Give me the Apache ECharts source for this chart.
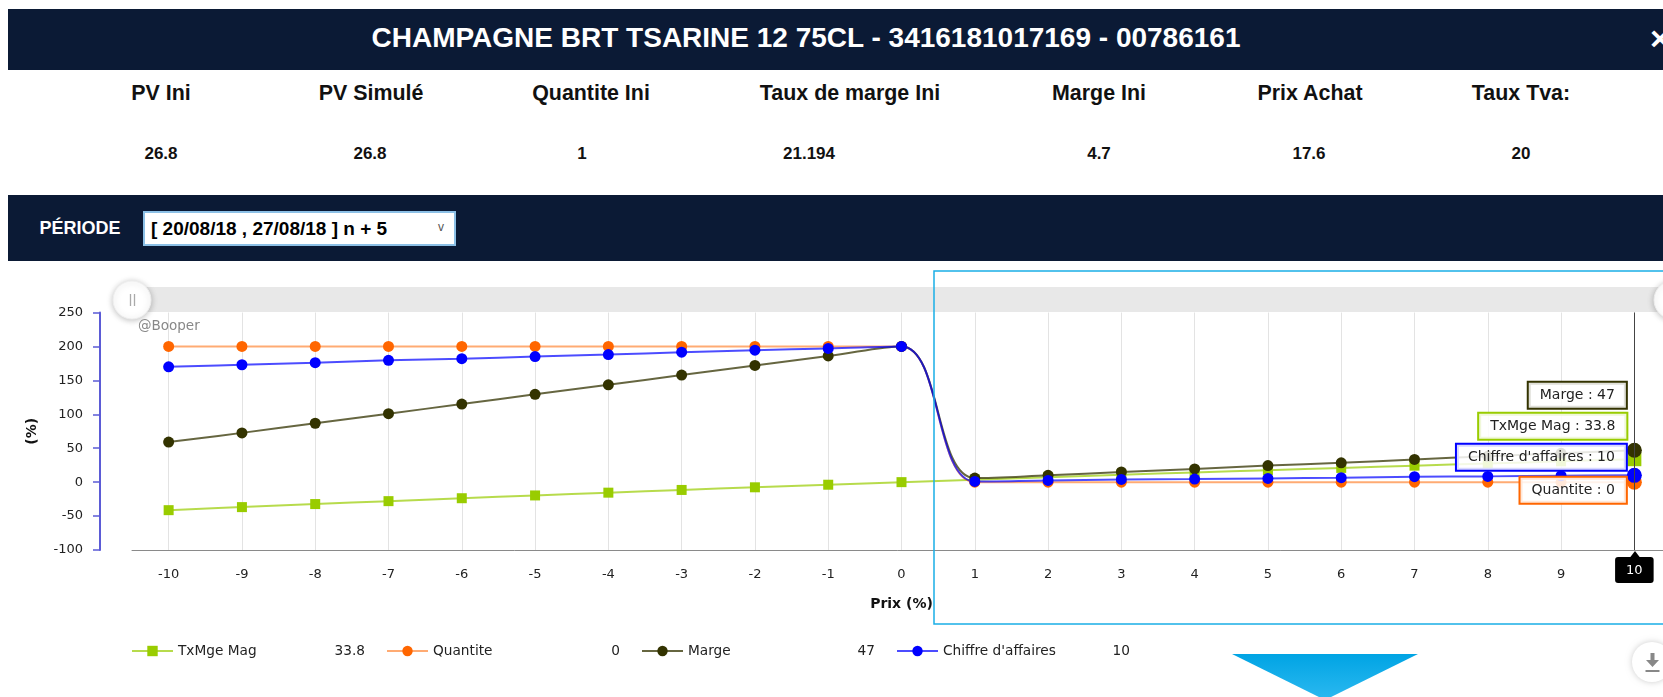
<!DOCTYPE html>
<html><head><meta charset="utf-8">
<script src="https://cdn.jsdelivr.net/npm/echarts@6/dist/echarts.min.js"></script>
<style>
html,body{margin:0;padding:0;width:1663px;height:697px;overflow:hidden;background:#fff;font-family:"Liberation Sans",Arial,sans-serif;}
.bar{position:absolute;left:8px;right:0;background:#0b1a35;}
.t{position:absolute;white-space:nowrap;transform:translate(-50%,-50%);}
#chart{position:absolute;left:0;top:0;width:1663px;height:697px;}
#sel{position:absolute;left:143px;top:211px;width:309px;height:31px;background:#fff;border:2px solid #8cc0e6;box-sizing:content-box;}
</style></head>
<body>
<div class="bar" style="top:9px;height:61px"></div>
<div class="t" id="title" style="left:806px;top:38px;color:#fff;font-weight:bold;font-size:28px"></div>
<div class="t" style="left:1660px;top:38px;color:#fff;font-weight:bold;font-size:34px">×</div>
<div id="hdr"></div>
<div class="bar" style="top:195px;height:66px"></div>
<div class="t" id="periodeLbl" style="left:80px;top:228px;color:#fff;font-weight:bold;font-size:18px"></div>
<div id="sel"><span id="selText" style="position:absolute;left:6px;top:50%;transform:translateY(-50%);font-weight:bold;font-size:19px;color:#000;white-space:nowrap"></span><span style="position:absolute;left:293px;top:7px;font-size:12px;color:#555">v</span></div>
<div id="chart"></div>
<script>
// ---- data ----
const titleText = "CHAMPAGNE BRT TSARINE 12 75CL - 3416181017169 - 00786161";
const headerLabels = ["PV Ini", "PV Simulé", "Quantite Ini", "Taux de marge Ini", "Marge Ini", "Prix Achat", "Taux Tva:"];
const headerValues = ["26.8", "26.8", "1", "21.194", "4.7", "17.6", "20"];
const periodeLabel = "PÉRIODE";
const periodeValue = "[ 20/08/18 , 27/08/18 ] n + 5";
const categories = ["-10","-9","-8","-7","-6","-5","-4","-3","-2","-1","0","1","2","3","4","5","6","7","8","9","10"];
const txMgeMag = [-41.3,-36.8,-32.3,-28.0,-23.7,-19.6,-15.5,-11.5,-7.6,-3.8,0,3.7,7.3,10.8,14.3,17.7,21.0,24.3,27.5,30.7,33.8];
const quantite = [200,200,200,200,200,200,200,200,200,200,200,0,0,0,0,0,0,0,0,0,0];
const marge = [59,72.6,86.8,100.9,115.1,129.5,143.4,157.8,172,186,200,6,10,15,19.5,24.5,28.5,33.5,38,42.5,47];
const chiffreAffaires = [170,173,176,179.5,182,185,188,191.5,194.5,197,200,1,2.5,4,4.5,5.5,6.5,8,8.5,9.5,10];
const yMin = -100, yMax = 250, yStep = 50;
const xAxisName = "Prix (%)", yAxisName = "(%)";
const creditText = "@Booper";

// ---- header html ----
document.getElementById('title').textContent = titleText;
document.getElementById('periodeLbl').textContent = periodeLabel;
document.getElementById('selText').textContent = periodeValue;
const hdrLabelX = [161, 371, 591, 850, 1099, 1310, 1521];
const hdrValueX = [161, 370, 582, 809, 1099, 1309, 1521];
const hdr = document.getElementById('hdr');
headerLabels.forEach((l, i) => {
  const d = document.createElement('div');
  d.className = 't'; d.textContent = l;
  d.style.cssText = `left:${hdrLabelX[i]}px;top:93px;font-weight:bold;font-size:21.4px;color:#111`;
  hdr.appendChild(d);
  const v = document.createElement('div');
  v.className = 't'; v.textContent = headerValues[i];
  v.style.cssText = `left:${hdrValueX[i]}px;top:154px;font-weight:bold;font-size:17px;color:#111`;
  hdr.appendChild(v);
});

// ---- chart ----
const FF = 'DejaVu Sans';
const defs = [
  {name: 'TxMge Mag', data: txMgeMag, color: '#99cc00', line: 'rgba(153,204,0,0.7)', symbol: 'rect', size: 10, dy: -33},
  {name: 'Quantite', data: quantite, color: '#ff6600', line: 'rgba(255,102,0,0.55)', symbol: 'circle', size: 11, dy: 8},
  {name: 'Marge', data: marge, color: '#333300', line: 'rgba(51,51,0,0.75)', symbol: 'circle', size: 11, dy: -55},
  {name: "Chiffre d'affaires", data: chiffreAffaires, color: '#0000ff', line: 'rgba(0,0,255,0.7)', symbol: 'circle', size: 11, dy: -18}
];
const last = categories.length - 1;
const lastVal = {};
defs.forEach(d => lastVal[d.name] = d.data[last]);

const series = defs.map(d => ({
  name: d.name, type: 'line', smooth: 0.4,
  symbol: d.symbol, symbolSize: d.size,
  itemStyle: {color: d.color},
  lineStyle: {color: d.line, width: 2},
  emphasis: {disabled: true},
  data: d.data.map((v, i) => i === last ? {
    value: v, symbolSize: d.size + 4,
    label: {
      show: true, position: 'left', distance: 1, offset: [0, d.dy],
      formatter: d.name + ' : ' + v,
      backgroundColor: 'rgba(255,255,255,0.85)', borderColor: d.color, borderWidth: 2,
      padding: [6, 11, 5, 11], color: '#222', fontSize: 14, fontFamily: FF
    }
  } : v)
}));

const chart = echarts.init(document.getElementById('chart'), null, {renderer: 'canvas'});
chart.setOption({
  animation: false,
  backgroundColor: 'transparent',
  grid: {left: 132, top: 312.5, width: 1539, height: 237.5, containLabel: false, outerBoundsMode: 'none'},
  xAxis: {
    type: 'category', data: categories, boundaryGap: true,
    axisLine: {onZero: false, lineStyle: {color: '#8a8a8a', width: 1}},
    axisTick: {alignWithLabel: true, length: 6, lineStyle: {color: '#8a8a8a'}},
    axisLabel: {margin: 18, color: '#222', fontSize: 13, fontFamily: FF},
    splitLine: {show: true, alignWithLabel: true, lineStyle: {color: '#e3e3e3', width: 1}},
    name: xAxisName, nameLocation: 'middle', nameGap: 47,
    nameTextStyle: {fontWeight: 'bold', fontSize: 14, color: '#111', fontFamily: FF},
    axisPointer: {
      show: true, status: 'show', value: last, type: 'line', triggerTooltip: false,
      lineStyle: {color: '#444', width: 1, type: 'solid'},
      label: {show: true, backgroundColor: '#000', color: '#fff', padding: [7, 11, 6, 11], fontSize: 13, fontFamily: FF, margin: 7}
    }
  },
  yAxis: {
    type: 'value', min: yMin, max: yMax, interval: yStep, offset: 32,
    axisLine: {show: true, lineStyle: {color: '#5b5bd6', width: 2}},
    axisTick: {show: true, length: 7, lineStyle: {color: '#5b5bd6', width: 1.5}},
    axisLabel: {margin: 17, color: '#222', fontSize: 13, fontFamily: FF},
    splitLine: {show: false},
    name: yAxisName, nameLocation: 'middle', nameRotate: 90, nameGap: 61,
    nameTextStyle: {fontWeight: 'bold', fontSize: 14, color: '#111', fontFamily: FF}
  },
  legend: {
    left: 126, top: 639, itemWidth: 41, itemHeight: 13, itemGap: 21, selectedMode: false,
    data: defs.map(d => d.name),
    formatter: name => `{n|${name}}{v|${lastVal[name]}}`,
    textStyle: {
      color: '#222', fontFamily: FF, fontSize: 13.7,
      rich: {
        n: {width: 125, color: '#222', fontFamily: FF, fontSize: 13.7, lineHeight: 13},
        v: {width: 62, align: 'right', color: '#222', fontFamily: FF, fontSize: 13.7, lineHeight: 13}
      }
    }
  },
  series: series,
  graphic: [
    {type: 'rect', z: 1, silent: true, shape: {x: 132, y: 287, width: 1560, height: 25}, style: {fill: '#e8e8e8'}},
    {type: 'circle', z: 2, silent: true, shape: {cx: 132, cy: 300, r: 19}, style: {fill: '#fff', stroke: '#eeeeee', shadowBlur: 6, shadowColor: 'rgba(0,0,0,0.25)', shadowOffsetY: 1}},
    {type: 'line', z: 3, silent: true, shape: {x1: 130.5, y1: 294, x2: 130.5, y2: 306}, style: {stroke: '#aaa', lineWidth: 1.3}},
    {type: 'line', z: 3, silent: true, shape: {x1: 134.5, y1: 294, x2: 134.5, y2: 306}, style: {stroke: '#aaa', lineWidth: 1.3}},
    {type: 'circle', z: 2, silent: true, shape: {cx: 1673, cy: 300, r: 19}, style: {fill: '#fff', stroke: '#eeeeee', shadowBlur: 6, shadowColor: 'rgba(0,0,0,0.25)', shadowOffsetY: 1}},
    {type: 'text', z: 3, silent: true, left: 138, top: 319, style: {text: creditText, fill: '#888', fontSize: 13.5, fontFamily: FF}},
    {type: 'rect', z: 100, silent: true, shape: {x: 934, y: 271, width: 760, height: 353}, style: {fill: 'none', stroke: '#1aaee6', lineWidth: 1.5}},
    {type: 'polygon', z: 100, silent: true, shape: {points: [[1630, 557.5], [1640, 557.5], [1635, 551]]}, style: {fill: '#000'}},
    {type: 'polygon', z: 100, silent: true, shape: {points: [[1232, 654], [1418, 654], [1325, 700]]},
      style: {fill: new echarts.graphic.LinearGradient(0, 0, 0, 1, [{offset: 0, color: '#00a4e4'}, {offset: 1, color: '#2cb9f0'}])}},
    {type: 'circle', z: 100, silent: true, shape: {cx: 1652, cy: 662, r: 20}, style: {fill: '#fff', shadowBlur: 6, shadowColor: 'rgba(0,0,0,0.2)'}},
    {type: 'polygon', z: 101, silent: true, shape: {points: [[1650.5, 653], [1654.5, 653], [1654.5, 660], [1659, 660], [1652.5, 667], [1646, 660], [1650.5, 660]]}, style: {fill: '#888'}},
    {type: 'rect', z: 101, silent: true, shape: {x: 1645.5, y: 670, width: 14, height: 2}, style: {fill: '#888'}}
  ]
});
</script>
</body></html>
